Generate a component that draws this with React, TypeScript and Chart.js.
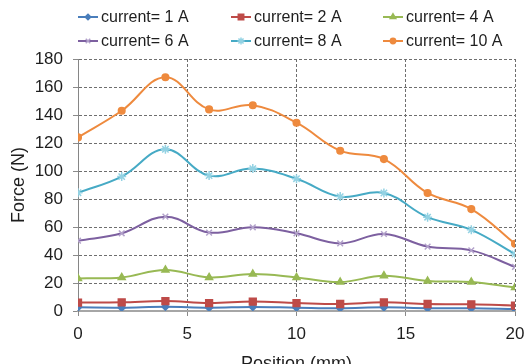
import React, { useEffect, useRef } from "react";
import { Chart, registerables } from "chart.js";
import { drawPoint } from "chart.js/helpers";

Chart.register(...registerables);

// Position along the stroke (mm)
const positions = [0, 2, 4, 6, 8, 10, 12, 14, 16, 18, 20];

// Measured force (N) for each coil current
const force1A = [2.6, 2.4, 3.1, 2.4, 2.9, 2.4, 2.0, 2.6, 2.0, 2.0, 1.4];
const force2A = [6.0, 6.2, 7.1, 5.7, 6.7, 5.7, 5.0, 6.2, 5.0, 4.8, 3.8];
const force4A = [23.3, 24.0, 29.3, 24.0, 26.4, 24.0, 20.7, 25.2, 21.4, 20.7, 16.7];
const force6A = [50.2, 55.5, 67.4, 56.0, 59.8, 55.5, 48.3, 55.0, 46.0, 43.3, 31.5];
const force8A = [84.5, 96.0, 115.5, 96.7, 101.7, 94.5, 81.7, 84.3, 67.0, 58.0, 40.7];
const force10A = [124, 143, 167, 144, 147, 134.5, 114.5, 108.5, 84.3, 72.8, 48];

const seriesLabels = [
  "current= 1 A",
  "current= 2 A",
  "current= 4 A",
  "current= 6 A",
  "current= 8 A",
  "current= 10 A",
];

const FONT = "'Liberation Sans', Arial, sans-serif";
const CANVAS_W = 524;
const CANVAS_H = 375;

type Style = { line: string; marker: string; fill: string; shape: string; r: number };
const styles: Style[] = [
  { line: "#4A7EBB", marker: "#4A7EBB", fill: "#4A7EBB", shape: "rectRot", r: 3.5 },
  { line: "#BE4B48", marker: "#BE4B48", fill: "#BE4B48", shape: "rect", r: 4.8 },
  { line: "#98B954", marker: "#98B954", fill: "#98B954", shape: "triangle", r: 4 },
  { line: "#7D60A0", marker: "#B3A2CB", fill: "#B3A2CB", shape: "crossRot", r: 4 },
  { line: "#46AAC5", marker: "#93D2E3", fill: "#93D2E3", shape: "star", r: 4.5 },
  { line: "#EE8A3E", marker: "#EE8A3E", fill: "#EE8A3E", shape: "circle", r: 3.3 },
];

const values = [force1A, force2A, force4A, force6A, force8A, force10A];

// Two-row, three-column legend drawn above the plot
const legendCols = [78, 231, 383];
const legendRows = [17, 41];

const gridLegend = {
  id: "gridLegend",
  afterDraw(chart: any) {
    const ctx = chart.ctx as CanvasRenderingContext2D;
    chart.data.datasets.forEach((ds: any, i: number) => {
      const x = legendCols[i % 3];
      const y = legendRows[Math.floor(i / 3)];
      const st = styles[i];
      ctx.save();
      ctx.strokeStyle = st.line;
      ctx.lineWidth = 2;
      ctx.beginPath();
      ctx.moveTo(x, y);
      ctx.lineTo(x + 20, y);
      ctx.stroke();
      ctx.strokeStyle = st.marker;
      ctx.fillStyle = st.fill;
      ctx.lineWidth = 1.5;
      drawPoint(ctx, { pointStyle: st.shape as any, radius: st.r * 0.8, rotation: 0, borderWidth: 1.5 }, x + 10, y);
      ctx.fillStyle = "#1e1e1e";
      ctx.font = `16px ${FONT}`;
      ctx.textAlign = "left";
      ctx.textBaseline = "middle";
      ctx.fillText(ds.label, x + 23, y + 1);
      ctx.restore();
    });
  },
};

export default function App() {
  const ref = useRef<HTMLCanvasElement>(null);

  useEffect(() => {
    if (!ref.current) return;
    const chart = new Chart(ref.current, {
      type: "line",
      data: {
        datasets: values.map((vals, i) => ({
          label: seriesLabels[i],
          data: positions.map((p, k) => ({ x: p, y: vals[k] })),
          borderColor: styles[i].line,
          backgroundColor: styles[i].fill,
          pointBorderColor: styles[i].marker,
          pointBackgroundColor: styles[i].fill,
          pointStyle: styles[i].shape as any,
          pointRadius: styles[i].r,
          pointBorderWidth: 1.5,
          borderWidth: 2,
          tension: 0.4,
          fill: false,
          order: 5 - i,
        })),
      },
      options: {
        animation: false,
        responsive: false,
        devicePixelRatio: 1,
        layout: { padding: { top: 59, left: 0, right: 0, bottom: 0 } },
        plugins: {
          legend: { display: false },
          tooltip: { enabled: false },
        },
        scales: {
          x: {
            type: "linear",
            min: 0,
            max: 20,
            ticks: {
              stepSize: 5,
              color: "#1e1e1e",
              font: { family: FONT, size: 17 },
              padding: 8,
              maxRotation: 0,
            },
            grid: {
              color: "#6e6e6e",
              lineWidth: 1,
              tickLength: 5,
              tickColor: "#8a8a8a",
              tickWidth: 1,
            },
            border: { display: true, color: "#a6a6a6", width: 2, dash: [3, 2] },
            title: {
              display: true,
              text: "Position (mm)",
              color: "#1e1e1e",
              font: { family: FONT, size: 18 },
              padding: { top: 0, bottom: 0 },
            },
            afterFit(s: any) {
              s.height = CANVAS_H - 311;
              s.paddingRight = 9;
            },
          },
          y: {
            type: "linear",
            min: 0,
            max: 180,
            ticks: {
              stepSize: 20,
              color: "#1e1e1e",
              font: { family: FONT, size: 17 },
              padding: 10,
            },
            grid: {
              color: "#6e6e6e",
              lineWidth: 1,
              tickLength: 5,
              tickColor: "#8a8a8a",
              tickWidth: 1,
            },
            border: { display: true, color: "#868686", width: 1, dash: [3, 2] },
            title: {
              display: true,
              text: "Force (N)",
              color: "#1e1e1e",
              font: { family: FONT, size: 18 },
              padding: { top: 8, bottom: 0 },
            },
            afterFit(s: any) {
              s.width = 78;
            },
          },
        },
      },
      plugins: [gridLegend],
    });
    return () => chart.destroy();
  }, []);

  return (
    <div
      style={{
        position: "fixed",
        left: 0,
        top: 0,
        width: CANVAS_W,
        height: CANVAS_H,
        background: "#fff",
      }}
    >
      <canvas ref={ref} width={CANVAS_W} height={CANVAS_H} />
    </div>
  );
}
